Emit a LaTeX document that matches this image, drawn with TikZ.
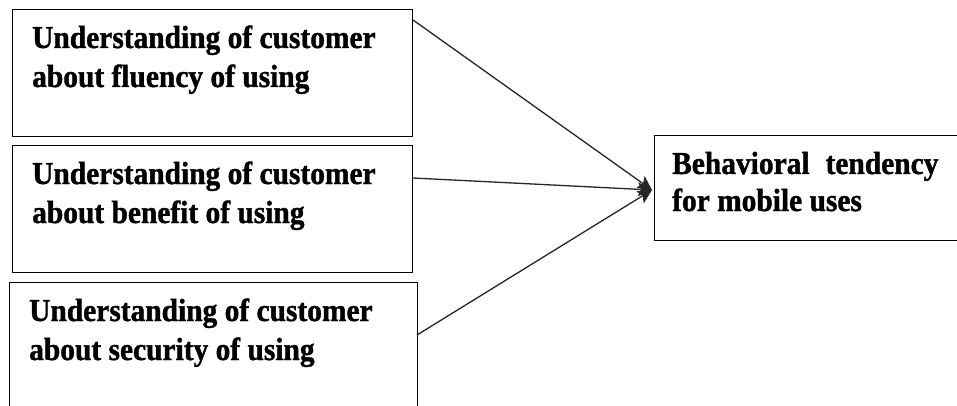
\documentclass[tikz,border=0pt]{standalone}
\usepackage{fontspec}
\setmainfont{Liberation Serif}[BoldFeatures={FakeBold=1.2,FakeStretch=0.92}]
\usetikzlibrary{arrows.meta}
\begin{document}
\begin{tikzpicture}[x=1pt,y=-1pt,
  box/.style={draw=black, line width=1.4pt, inner sep=0pt, rectangle, anchor=north west},
  txt/.style={anchor=base west, inner sep=0pt, font=\fontsize{32}{39}\selectfont\bfseries},
  conn/.style={draw=black!85, line width=1.3pt, -{Stealth[length=14pt,width=14pt,inset=3pt]}}]
\useasboundingbox (0,0) rectangle (957,406);
\fill[white] (0,0) rectangle (957,406);
% boxes
\node[box, minimum width=400pt, minimum height=127pt] (b1) at (12,9) {};
\node[box, minimum width=400pt, minimum height=127pt] (b2) at (12,145) {};
\node[box, minimum width=408pt, minimum height=140pt] (b3) at (9,282) {};
\node[box, minimum width=320pt, minimum height=105pt] (b4) at (654,135) {};
% texts
\node[txt] (t1a) at (32,48) {Understanding of customer};
\node[txt] (t1b) at (32,87) {about fluency of using};
\node[txt] (t2a) at (32,184) {Understanding of customer};
\node[txt] (t2b) at (32,223) {about benefit of using};
\node[txt] (t3a) at (29,321) {Understanding of customer};
\node[txt] (t3b) at (29,360) {about security of using};
\node[txt] (t4a) at (672,174) {Behavioral\hspace{0.5em}tendency};
\node[txt] (t4b) at (672,211) {for mobile uses};
% connectors
\coordinate (s1) at (413,20);
\coordinate (s2) at (413,178);
\coordinate (s3) at (417,335);
\coordinate (tip) at (652,190);
\draw[conn] (s1) -- (tip);
\draw[conn] (s2) -- (tip);
\draw[conn] (s3) -- (tip);
\end{tikzpicture}
\end{document}
